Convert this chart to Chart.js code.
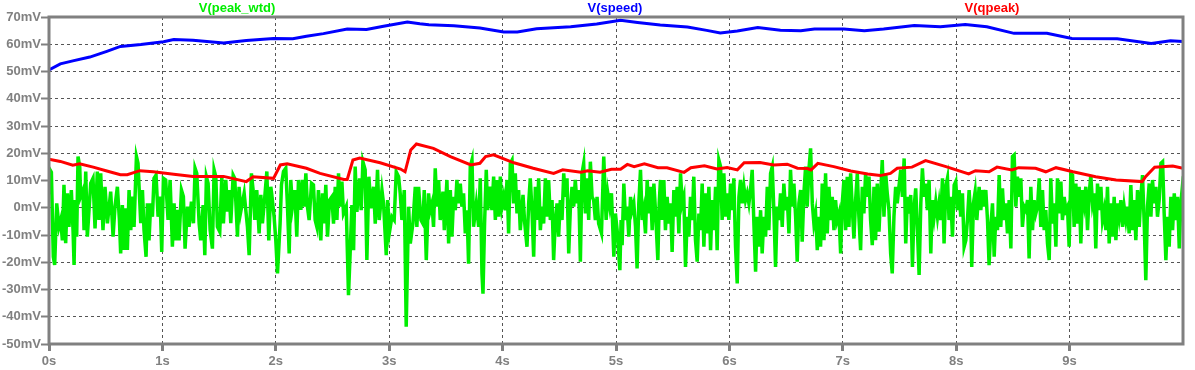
<!DOCTYPE html>
<html>
<head>
<meta charset="utf-8">
<script src="https://cdn.jsdelivr.net/npm/chart.js@4.4.1/dist/chart.umd.min.js"></script>
<style>
  body { margin: 0; background: #fff; }
  #wrap { position: relative; width: 1195px; height: 370px; }
  .lbl { position: absolute; top: 0; transform: translateX(-50%); font: bold 13px "Liberation Sans", Arial, sans-serif; line-height: 16px; white-space: nowrap; }
</style>
</head>
<body>
<div id="wrap">
  <canvas id="plot" width="1195" height="370"></canvas>
  <div class="lbl" style="left:237px;color:#00ee00">V(peak_wtd)</div>
  <div class="lbl" style="left:615px;color:#0000ff">V(speed)</div>
  <div class="lbl" style="left:992px;color:#ff0000">V(qpeak)</div>
</div>
<script>
// LTspice-like transient plot: three traces over 10 s

const yTicks = [-50, -40, -30, -20, -10, 0, 10, 20, 30, 40, 50, 60, 70];
const xTicks = [0, 1, 2, 3, 4, 5, 6, 7, 8, 9];

// V(speed)
const blueT = [0, 0.1, 0.21, 0.36, 0.51, 0.63, 0.81, 1.01, 1.10, 1.27, 1.54, 1.74, 1.98, 2.15, 2.27, 2.42, 2.63, 2.80, 2.95, 3.16,
  3.27, 3.35, 3.57, 3.80, 4.01, 4.13, 4.30, 4.60, 4.83, 5.04, 5.19, 5.39, 5.63, 5.80, 5.92, 6.07, 6.25, 6.45, 6.63, 6.75,
  7.01, 7.19, 7.36, 7.63, 7.86, 8.08, 8.27, 8.51, 8.80, 9.02, 9.42, 9.72, 9.89, 10.0];
const blueV = [50.6, 52.8, 53.9, 55.3, 57.4, 59.2, 59.9, 60.9, 61.7, 61.5, 60.5, 61.4, 62.1, 62.0, 62.9, 63.9, 65.6, 65.4, 66.6, 68.2,
  67.5, 67.2, 66.8, 66.0, 64.5, 64.5, 65.7, 66.4, 67.4, 68.8, 68.0, 67.1, 66.3, 65.1, 64.1, 64.9, 66.1, 65.1, 65.0, 65.6,
  65.6, 65.0, 65.6, 66.9, 66.4, 67.2, 66.4, 64.0, 64.0, 62.1, 62.0, 60.3, 61.3, 61.0];

// V(qpeak)
const redT = [0, 0.1, 0.21, 0.27, 0.39, 0.51, 0.63, 0.69, 0.74, 0.80, 0.92, 1.10, 1.27, 1.54, 1.74, 1.80, 1.98, 2.04, 2.10, 2.27,
  2.39, 2.60, 2.63, 2.68, 2.74, 2.92, 3.10, 3.14, 3.19, 3.24, 3.39, 3.54, 3.72, 3.80, 3.85, 3.92, 4.10, 4.27, 4.45, 4.53,
  4.69, 4.75, 4.86, 4.96, 5.04, 5.10, 5.16, 5.25, 5.37, 5.45, 5.60, 5.66, 5.78, 5.89, 5.98, 6.07, 6.13, 6.27, 6.39, 6.51,
  6.60, 6.69, 6.72, 6.78, 6.92, 7.07, 7.22, 7.33, 7.42, 7.48, 7.61, 7.73, 7.91, 8.11, 8.17, 8.29, 8.36, 8.49, 8.55, 8.70,
  8.79, 8.88, 9.03, 9.23, 9.41, 9.64, 9.67, 9.75, 9.91, 10.0];
const redV = [17.8, 17.0, 15.6, 16.1, 14.9, 13.5, 12.1, 12.1, 12.8, 13.6, 13.2, 12.3, 11.5, 11.5, 9.6, 11.4, 10.8, 15.7, 16.1, 14.5,
  12.6, 10.4, 10.4, 17.5, 18.2, 16.5, 14.2, 13.2, 21.2, 23.4, 21.8, 18.8, 15.7, 16.3, 18.8, 19.4, 16.5, 14.5, 12.6, 13.9,
  13.0, 13.6, 13.0, 14.1, 14.1, 15.9, 15.1, 16.1, 14.7, 14.7, 13.0, 14.7, 15.4, 14.2, 14.8, 13.9, 16.5, 16.6, 15.7, 16.0,
  14.5, 14.4, 13.9, 16.3, 15.1, 13.5, 12.4, 11.8, 12.6, 14.5, 14.9, 17.3, 15.1, 12.4, 13.6, 13.2, 14.9, 13.9, 14.7, 14.5,
  13.2, 14.7, 13.2, 11.4, 10.2, 9.6, 11.4, 14.9, 15.3, 14.5];

// V(peak_wtd)
const greenT = [
  0.000, 0.009, 0.021, 0.038, 0.050, 0.068, 0.088, 0.103, 0.118, 0.132, 0.147, 0.162, 0.176, 0.197, 0.212, 0.221, 0.232, 0.244, 0.256, 0.271,
  0.279, 0.300, 0.309, 0.324, 0.338, 0.368, 0.388, 0.406, 0.426, 0.441, 0.456, 0.476, 0.494, 0.515, 0.544, 0.565, 0.582, 0.603, 0.621, 0.632,
  0.647, 0.662, 0.676, 0.691, 0.706, 0.721, 0.735, 0.750, 0.771, 0.785, 0.809, 0.824, 0.838, 0.856, 0.868, 0.882, 0.897, 0.912, 0.926, 0.944,
  0.962, 0.979, 0.994, 1.009, 1.029, 1.050, 1.068, 1.088, 1.103, 1.118, 1.132, 1.147, 1.168, 1.185, 1.200, 1.221, 1.235, 1.256, 1.274, 1.288,
  1.303, 1.324, 1.338, 1.359, 1.374, 1.388, 1.403, 1.421, 1.441, 1.456, 1.471, 1.485, 1.506, 1.524, 1.538, 1.559, 1.574, 1.588, 1.603, 1.624,
  1.638, 1.662, 1.676, 1.691, 1.721, 1.750, 1.765, 1.785, 1.800, 1.815, 1.832, 1.853, 1.868, 1.882, 1.903, 1.921, 1.938, 1.956, 1.965, 1.985,
  2.000, 2.015, 2.038, 2.050, 2.068, 2.088, 2.103, 2.118, 2.132, 2.147, 2.168, 2.185, 2.200, 2.221, 2.235, 2.250, 2.265, 2.279, 2.294, 2.315,
  2.332, 2.347, 2.362, 2.376, 2.397, 2.412, 2.426, 2.441, 2.456, 2.474,
  2.494, 2.509, 2.524, 2.539, 2.553, 2.568, 2.583, 2.597, 2.621, 2.641, 2.656, 2.671, 2.686, 2.700, 2.715, 2.739, 2.753, 2.768, 2.788, 2.803,
  2.821, 2.839, 2.862, 2.877, 2.897, 2.912, 2.936, 2.950, 2.974, 2.986, 3.003, 3.024, 3.044, 3.062, 3.083, 3.097, 3.112, 3.133, 3.150, 3.171,
  3.186, 3.209, 3.230, 3.244, 3.259, 3.280, 3.297, 3.309, 3.327, 3.347, 3.362, 3.377, 3.391, 3.406, 3.421, 3.436, 3.450, 3.474, 3.486, 3.509,
  3.524, 3.539, 3.553, 3.568, 3.583, 3.597, 3.612, 3.627, 3.641, 3.656, 3.671, 3.686, 3.700, 3.715, 3.730, 3.744, 3.768, 3.789, 3.803, 3.818,
  3.827, 3.841, 3.856, 3.868, 3.886, 3.906, 3.921, 3.936, 3.950, 3.965, 3.980, 3.994, 4.009, 4.024, 4.039, 4.053, 4.068, 4.083, 4.097, 4.112,
  4.127, 4.141, 4.156, 4.180, 4.194, 4.215, 4.230, 4.244, 4.259, 4.274, 4.289, 4.303, 4.318, 4.333, 4.347, 4.362, 4.377, 4.391, 4.406, 4.421,
  4.436, 4.450, 4.465, 4.480, 4.494, 4.509, 4.524, 4.539, 4.553, 4.568, 4.583, 4.597, 4.612, 4.627, 4.641, 4.656, 4.671, 4.686, 4.700, 4.715,
  4.730, 4.744, 4.759, 4.774, 4.789, 4.803, 4.818, 4.833, 4.847,
  4.872, 4.892, 4.913, 4.928, 4.945, 4.960, 4.981, 4.995, 5.010, 5.034, 5.045, 5.054, 5.069, 5.084, 5.098, 5.113, 5.128, 5.142, 5.157, 5.172,
  5.186, 5.201, 5.216, 5.231, 5.245, 5.260, 5.275, 5.289, 5.304, 5.319, 5.334, 5.348, 5.369, 5.381, 5.392, 5.407, 5.422, 5.436, 5.451, 5.466,
  5.481, 5.495, 5.510, 5.525, 5.539, 5.554, 5.569, 5.584, 5.598, 5.613, 5.628, 5.642, 5.657, 5.672, 5.686, 5.701, 5.716, 5.731, 5.745, 5.760,
  5.775, 5.789, 5.804, 5.819, 5.834, 5.848, 5.863, 5.878, 5.892, 5.907, 5.922, 5.936, 5.951, 5.966, 5.981, 5.995, 6.010, 6.025, 6.039, 6.054,
  6.069, 6.084, 6.098, 6.113, 6.128, 6.142, 6.157, 6.172, 6.186, 6.201, 6.216, 6.231, 6.245, 6.260, 6.275, 6.289, 6.304, 6.319, 6.334, 6.348,
  6.363, 6.378, 6.392, 6.407, 6.422, 6.436, 6.451, 6.466, 6.480, 6.495, 6.510, 6.525, 6.539, 6.554, 6.569, 6.584, 6.598, 6.613, 6.628, 6.642,
  6.657, 6.672, 6.686, 6.701, 6.716, 6.731, 6.745, 6.760, 6.775, 6.789, 6.804, 6.819, 6.834, 6.848, 6.863, 6.878, 6.892, 6.907, 6.922, 6.936,
  6.951, 6.966, 6.981, 6.995, 7.010, 7.025, 7.039, 7.054, 7.069, 7.083, 7.098, 7.113, 7.128, 7.142, 7.157, 7.172, 7.186, 7.201, 7.216, 7.231,
  7.245, 7.260, 7.275, 7.289, 7.304, 7.319, 7.334, 7.348, 7.363, 7.378, 7.392, 7.407, 7.422, 7.436, 7.451, 7.466, 7.480, 7.495,
  7.511, 7.526, 7.541, 7.555, 7.570, 7.585, 7.599, 7.614, 7.629, 7.643, 7.658, 7.673, 7.688, 7.702, 7.717, 7.732, 7.746, 7.761, 7.776, 7.790,
  7.805, 7.820, 7.835, 7.849, 7.864, 7.879, 7.893, 7.908, 7.923, 7.937, 7.952, 7.967, 7.982, 7.996, 8.011, 8.026, 8.040, 8.055, 8.070, 8.085,
  8.099, 8.114, 8.129, 8.137, 8.152, 8.167, 8.182, 8.202, 8.217, 8.232, 8.246, 8.261, 8.276, 8.290, 8.305, 8.320, 8.335, 8.349, 8.364, 8.379,
  8.393, 8.408, 8.423, 8.437, 8.452, 8.467, 8.482, 8.496, 8.511, 8.526, 8.540, 8.555, 8.570, 8.584, 8.599, 8.614, 8.629, 8.643, 8.658, 8.673,
  8.687, 8.702, 8.717, 8.732, 8.746, 8.761, 8.776, 8.790, 8.805, 8.820, 8.834, 8.849, 8.864, 8.879, 8.893, 8.908, 8.923, 8.937, 8.952, 8.967,
  8.981, 8.996, 9.011, 9.026, 9.040, 9.055, 9.070, 9.084, 9.099, 9.114, 9.129, 9.143, 9.158, 9.173, 9.187, 9.202, 9.217, 9.231, 9.246, 9.261,
  9.276, 9.290, 9.305, 9.320, 9.334, 9.349, 9.364, 9.378, 9.393, 9.408, 9.423, 9.437, 9.452, 9.467, 9.481, 9.496, 9.511, 9.525, 9.540, 9.555,
  9.570, 9.584, 9.599, 9.614, 9.628, 9.643, 9.658, 9.672, 9.687, 9.702, 9.717, 9.731, 9.746, 9.761, 9.775, 9.790, 9.805, 9.820, 9.834, 9.849,
  9.864, 9.878, 9.893, 9.908, 9.923, 9.937, 9.952, 9.967, 9.981, 9.996, 10.0];
const greenV = [
  5, 13.9, 13, -18, -21, 1.6, -7, -4.5, -12, 8.4, -13, 5.3, -7, 6.5, -8.2, -21, 2.8, -10.6, 18.8, 15.1,
  4.1, 6.5, -8.2, 13.3, -10.6, 9, 10.8, -7.6, 13.3, -4.5, 12.6, -8.2, 7.7, -5.7, 5.9, -10.6, 0.4, 7.7, -4.5, -16.8,
  1, -15.5, -0.2, -15.5, 6.5, -8.2, 4.1, -7, 18.8, 16.3, -5.7, 6.5, -8.2, -18, 1.6, -12, 1.6, -3.3, 10.8, 12,
  -3.3, 4.1, -16.2, 10.8, 10.2, -4.5, 10.2, -14.3, 1.6, -12, -0.8, -12, 6.5, 4.1, -15, 0.4, -7, 2.2, -5.7, 14.5,
  12.6, -5.7, -12, 1, -17.4, 11.4, 9, -8.2, -15, 13.9, 11.4, -7, -8.8, 11.4, -5.7, 10.2, -1.4, 6.5, -5.7, 12,
  10.8, -10.6, 7.7, -1.4, 5.3, -7, -17.4, 12.6, 6.5, -4.5, 6.5, -9.4, 4.7, -5.7, 4.1, 13.3, -12, 7.7, 4.7, -3.3,
  -12, -24.1, -5.7, 8.4, 13.3, 14.5, 0.4, -16.8, 10.2, 0.4, 6.5, -10.6, 10.2, -0.8, 10.2, 0.4, 12.6, 0.4, -4.5, 9,
  8.4, -4.5, -7, 6.5, -12, 5.3, -5.7, 8.4, -10.6, 2.8,
  4.0, -5.8, 7.7, -4.5, 12.6, 0.4, 9.6, -2.1, 0.4, -32.1, -16.2, 1.0, -15.6, 15.1, -1.5, 10.8, -0.9, 16.9, 13.9, -19.2,
  11.4, -0.2, 7.7, -5.8, 13.9, -4.5, 6.5, 1.6, -17.4, 2.8, -8.8, -3.3, -4.5, 13.2, 11.4, 5.3, -4.5, 6.5, -43.7, 0.4,
  -13.1, -5.8, 7.7, -7.0, 7.7, -4.5, -5.8, 6.5, -19.2, 5.3, -0.9, 1.6, -7.0, 14.5, 0.4, 10.2, -4.5, 5.9, -8.2, 10.2,
  -13.1, 6.5, -10.6, 4.0, -0.9, 10.2, 1.6, 8.9, 0.4, 5.3, -9.4, -0.9, -20.5, 15.1, 17.5, -7.0, 1.6, -7.0, 10.8, -24.1,
  -31.5, -5.8, 13.9, -0.9, 7.7, -0.9, 11.4, -4.5, 10.2, -3.3, 11.4, 0.4, 4.0, -0.9, 10.2, -9.4, 16.3, 17.5, 1.6, 12.6,
  -2.1, 6.5, -8.2, 4.7, -5.1, -14.3, 1.6, 10.8, -0.9, -18.0, 7.7, -4.5, 10.8, -8.2, 0.4, -5.8, 10.8, -3.3, 10.2, -4.5,
  2.8, -19.2, -4.5, 1.6, -10.6, 2.8, -4.5, 12.6, 4.0, 10.8, -16.8, -0.9, 7.7, 0.4, 10.2, 1.6, 6.5, -19.8, 12.6, 16.3,
  -2.1, 10.8, -4.5, 16.9, 4.0, 2.8, -4.5, 4.0, -5.8,
  -9.4, 18.8, -4.5, 5.3, 0.4, 5.3, -18.0, -2.1, -8.2, -22.9, -4.5, -13.7, 8.9, -4.5, 0.4, -10.6, 4.0, -0.9, 1.6, -7.0,
  -22.3, 1.6, 13.9, -4.5, -0.9, -9.4, 10.2, -2.1, 7.7, -8.2, 8.9, -0.9, -19.2, 1.6, 10.2, -4.5, 10.2, -8.2, 4.0, -5.8,
  1.6, -16.2, 6.5, -3.3, 7.7, -9.4, 12.6, 1.6, 4.0, -21.7, -3.3, -10.6, 4.0, -4.5, 11.4, -11.9, -19.8, -2.1, -8.2, 8.9,
  -14.3, 5.3, -9.4, 7.7, -15.6, 2.8, -8.2, 7.7, -15.6, 17.5, 15.1, -4.5, 12.6, -3.3, 5.3, -4.5, 8.9, -0.9, 10.8, -14.3,
  -27.8, 4.0, 10.2, 1.6, 7.7, 2.8, 5.3, 1.6, 6.5, 13.9, -5.8, -23.5, -3.3, -14.3, -0.9, -16.8, -3.3, -10.6, 7.7, -8.2,
  12.6, 15.1, -0.9, -21.7, 0.4, -4.5, 5.3, -7.0, 8.9, -0.9, 4.0, -9.4, 13.9, 0.4, 8.9, -3.3, -19.8, 1.6, 6.5, -12.5,
  5.3, 15.1, 0.4, 13.9, 21.8, 1.6, -5.8, -2.1, -15.6, -3.3, -14.3, 8.9, -11.9, 12.6, -9.4, 7.7, -4.5, 4.0, -8.2, 2.8,
  -4.5, -2.1, -16.8, 1.6, 10.2, -8.2, 11.4, -7.0, 12.6, 0.4, -11.3, 2.8, 12.6, -3.3, -15.6, 7.7, -2.1, 12.6, 4.0, 11.4,
  -4.5, -13.7, 7.7, -11.9, 8.9, -8.8, 5.3, 17.5, -3.3, 12.6, 5.3, -0.9, -16.8, -24.1, -3.3, 7.7, 1.6, 7.7,
  13.9, 4.0, 18.1, -13.1, 4.0, -2.1, 4.7, -21.7, 0.4, 7.1, -8.2, -24.7, 1.6, 14.5, 4.0, 8.9, -0.9, 10.2, -16.8, 2.8,
  -3.3, 2.2, -3.3, 1.6, -4.5, 10.8, -13.1, 7.7, 10.8, -4.5, 4.0, -10.6, 8.3, 9.6, -0.9, 6.5, -3.3, 5.3, -14.3, -11.9,
  -4.5, 6.5, -4.5, -21.7, 1.6, 5.9, -4.5, 7.7, -0.9, 6.5, 0.4, 6.5, -4.5, -21.1, -7.0, 1.6, -18.0, -3.3, -8.2, 12.0,
  -7.0, 7.1, -4.5, 1.6, -9.4, 2.8, -14.9, 18.8, 19.4, 0.4, 11.4, 4.0, 10.8, -7.0, 0.4, -0.9, 2.8, -18.6, 7.7, -8.2,
  2.8, -2.1, 0.4, 10.8, -7.0, 6.5, -8.2, -0.9, -13.1, -19.2, 10.8, -5.8, 1.6, -14.3, 10.8, -2.1, 9.6, -4.5, 4.0, -0.9,
  0.4, -14.3, 12.6, 12.0, -7.0, 8.9, -5.8, 7.7, -13.1, 6.5, 1.6, 7.7, -8.2, 5.3, 12.0, 1.6, 5.3, -14.9, 8.9, -0.9,
  7.7, -4.5, -0.9, -8.2, 7.7, -13.1, 1.6, -10.6, 4.0, -11.9, 1.6, -3.3, 2.8, -7.0, 0.4, -4.5, 0.4, -9.4, 8.3, -8.2,
  2.8, -11.9, 6.5, -7.0, 4.0, 12.0, -5.8, -26.6, 0.4, 8.9, -3.3, 10.2, 1.6, 7.7, -3.3, 2.8, 16.3, 16.9, -2.1, -19.2,
  -3.3, -14.3, 4.0, -8.2, 5.3, -4.5, 4.0, -14.9, 1.6, 8.3, 7.7];

const gridGray = '#555555';
const axisGray = '#808080';
const tickFont = { family: '"Liberation Sans", Arial, sans-serif', size: 13, weight: 'bold' };

function toPoints(ts, vs) {
    return ts.map(function(t, i) { return { x: t, y: vs[i] }; });
}

// gray frame around the plot area, like the LTspice waveform window
const framePlugin = {
    id: 'frame',
    afterDraw: function(chart) {
        const a = chart.chartArea;
        const ctx = chart.ctx;
        ctx.save();
        ctx.strokeStyle = axisGray;
        ctx.lineWidth = 3;
        ctx.strokeRect(a.left, a.top, a.right - a.left, a.bottom - a.top);
        ctx.restore();
    }
};

const ctx = document.getElementById('plot').getContext('2d');
new Chart(ctx, {
    type: 'line',
    data: {
        datasets: [
            { label: 'V(peak_wtd)', data: toPoints(greenT, greenV), borderColor: '#00ee00', borderWidth: 3.5, order: 3 },
            { label: 'V(speed)', data: toPoints(blueT, blueV), borderColor: '#0000ff', borderWidth: 3, order: 2 },
            { label: 'V(qpeak)', data: toPoints(redT, redV), borderColor: '#ff0000', borderWidth: 3, order: 1 }
        ]
    },
    options: {
        responsive: false,
        animation: false,
        devicePixelRatio: 1,
        elements: { point: { radius: 0 }, line: { tension: 0, fill: false } },
        layout: { padding: { left: 0, top: 17, right: 12, bottom: 0 } },
        plugins: { legend: { display: false }, tooltip: { enabled: false } },
        scales: {
            x: {
                type: 'linear',
                min: 0,
                max: 10,
                afterFit: function(scale) { scale.height = 26; },
                afterBuildTicks: function(scale) {
                    scale.ticks = xTicks.map(function(v) { return { value: v }; });
                },
                ticks: {
                    color: axisGray,
                    font: tickFont,
                    padding: 3,
                    maxRotation: 0,
                    autoSkip: false,
                    callback: function(v) { return v + 's'; }
                },
                grid: { color: gridGray, lineWidth: 1, tickColor: axisGray, tickWidth: 3, tickLength: 7 },
                border: { display: false, dash: [3, 3] }
            },
            y: {
                min: -50,
                max: 70,
                afterFit: function(scale) { scale.width = 49; },
                afterBuildTicks: function(scale) {
                    scale.ticks = yTicks.map(function(v) { return { value: v }; });
                },
                ticks: {
                    color: axisGray,
                    font: tickFont,
                    padding: 0,
                    autoSkip: false,
                    callback: function(v) { return v + 'mV'; }
                },
                grid: { color: gridGray, lineWidth: 1, tickColor: axisGray, tickWidth: 2, tickLength: 8 },
                border: { display: false, dash: [3, 3] }
            }
        }
    },
    plugins: [framePlugin]
});
</script>
</body>
</html>
